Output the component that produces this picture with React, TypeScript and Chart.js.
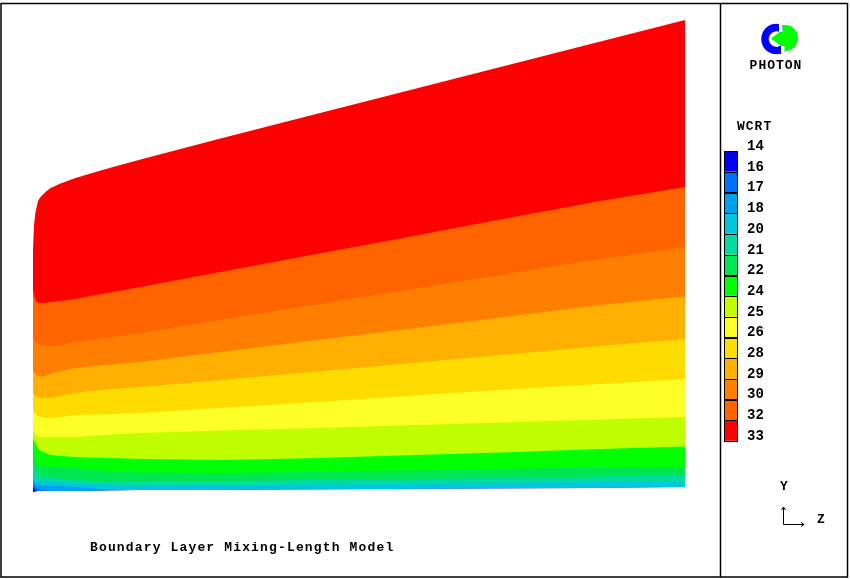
import React, { useEffect, useRef } from "react";
import { Chart, registerables } from "chart.js";

Chart.register(...registerables);

// Z coordinate grid (streamwise distance, arbitrary units)
const zGrid = [0, 0.2, 0.5, 1, 1.5, 2.5, 3.5, 5.5, 8.5, 11.5, 16, 21.5, 37.5, 53.5, 73.5, 93.5, 113.5, 130.4];

// Y position of domain top and of each WCRT contour level, per zGrid point
const yTop = [48.4, 53.4, 56, 58.2, 59, 60, 60.8, 61.7, 62.8, 63.7, 65, 66.5, 70.7, 74.8, 79.9, 85, 90.1, 94.4];
const c32 = [40.4, 39.4, 38.4, 37.8, 37.8, 37.8, 38, 38.2, 38.6, 39.2, 40, 41, 44, 47, 50.7, 54.5, 58.2, 61];
const c30 = [30.8, 30.4, 30, 29.6, 29.4, 29.2, 29.2, 29.4, 30, 30.4, 31, 31.8, 34.4, 37, 40.2, 43.4, 46.6, 48.9];
const c29 = [24.4, 24, 23.6, 23.2, 23, 23.2, 23.6, 24.2, 24.8, 25.1, 25.5, 26, 28, 30, 32.4, 34.9, 37.4, 39.1];
const c28 = [19.8, 19.6, 19.2, 19, 18.8, 18.8, 18.8, 19.2, 19.8, 20.2, 20.6, 21, 22.4, 23.8, 25.6, 27.4, 29.2, 30.6];
const c26 = [16.4, 16, 15.6, 15.2, 15, 14.8, 14.8, 15, 15.4, 15.5, 15.6, 15.8, 16.8, 17.8, 19.1, 20.4, 21.6, 22.6];
const c25 = [12.4, 12, 11.6, 11.2, 11, 11, 11, 11, 11, 11.2, 11.5, 11.8, 12.3, 12.7, 13.3, 13.9, 14.5, 15];
const c24 = [10.8, 10.2, 9.6, 8.8, 8.2, 7.8, 7.4, 7.2, 7, 6.9, 6.8, 6.6, 6.4, 6.7, 7.3, 7.9, 8.6, 9.1];
const c22 = [8.4, 7.4, 6.4, 5.6, 5.2, 5.1, 5, 4.9, 4.8, 4.5, 4.1, 3.9, 3.8, 4, 4.3, 4.6, 4.9, 5];
const c21 = [5.8, 5, 4.2, 3.6, 3.1, 3, 3, 2.7, 2.4, 2.2, 2.1, 2.1, 2.2, 2.4, 2.6, 2.8, 3.1, 3.3];
const c20 = [3.8, 3.2, 2.7, 2.3, 2, 2, 2, 1.9, 1.8, 1.6, 1.4, 1.4, 1.4, 1.5, 1.6, 1.8, 2, 2];
const c18 = [2.4, 2.1, 1.8, 1.5, 1.4, 1.4, 1.3, 1.2, 1, 0.8, 0.3, 0.4, 0.4, 0.5, 0.6, 0.7, 0.8, 1];
const c17 = [1.8, 1.4, 1.0, 0.7, 0.5, 0.3, 0.2, 0.2, 0.2, 0.2, 0.3, 0.4, 0.4, 0.5, 0.6, 0.7, 0.8, 1];
const c16 = [1.0, 0.7, 0.4, 0.2, 0.2, 0.2, 0.2, 0.2, 0.2, 0.2, 0.3, 0.4, 0.4, 0.5, 0.6, 0.7, 0.8, 1];
const yBottom = [0, 0, 0.1, 0.2, 0.2, 0.2, 0.2, 0.2, 0.2, 0.2, 0.3, 0.4, 0.4, 0.5, 0.6, 0.7, 0.8, 1.0];

// Legend levels and band colours (band i lies between levels[i] and levels[i+1])
const levels = [14, 16, 17, 18, 20, 21, 22, 24, 25, 26, 28, 29, 30, 32, 33];
const bandColors = [
  "#0000ff", "#0070ff", "#00a0f0", "#00c8dc", "#00dca0", "#00e650", "#00ff00",
  "#c0ff00", "#ffff28", "#ffdc00", "#ffb000", "#ff8000", "#ff6400", "#ff0000",
];

// Upper boundary of each band (from lowest band to highest), matching bandColors
const bandTops = [c16, c17, c18, c20, c21, c22, c24, c25, c26, c28, c29, c30, c32, yTop];

const title = "Boundary Layer Mixing-Length Model";
const varName = "WCRT";

const decor = {
  id: "decor",
  afterDraw(chart: any) {
    const ctx: CanvasRenderingContext2D = chart.ctx;
    ctx.save();
    // frame
    ctx.strokeStyle = "#000";
    ctx.lineWidth = 1.5;
    ctx.strokeRect(1, 3.5, 846.5, 573.5);
    ctx.beginPath();
    ctx.moveTo(720.5, 3.5);
    ctx.lineTo(720.5, 577);
    ctx.stroke();

    // logo
    ctx.strokeStyle = "#0000ff";
    ctx.lineWidth = 7.5;
    ctx.beginPath();
    ctx.arc(776.5, 39, 11.5, -Math.PI / 3.2, Math.PI / 3.2, true);
    ctx.stroke();
    ctx.fillStyle = "#00ff00";
    ctx.beginPath();
    ctx.arc(785, 38, 13, (-100 * Math.PI) / 180, (100 * Math.PI) / 180, false);
    ctx.closePath();
    ctx.fill();
    ctx.beginPath();
    ctx.moveTo(771, 38.5);
    ctx.lineTo(785, 28);
    ctx.lineTo(785, 49);
    ctx.closePath();
    ctx.fill();
    ctx.fillStyle = "#ffffff";
    ctx.fillRect(779, 24, 3.5, 8);
    ctx.fillRect(781, 46, 3.5, 7);

    // texts
    ctx.fillStyle = "#000";
    ctx.textBaseline = "middle";
    (ctx as any).letterSpacing = "1px";
    ctx.font = 'bold 13px "Liberation Mono", monospace';
    ctx.textAlign = "center";
    ctx.fillText("PHOTON", 776, 66);
    ctx.textAlign = "left";
    ctx.fillText(varName, 737, 127);
    (ctx as any).letterSpacing = "1.15px";
    ctx.fillText(title, 90, 547.5);

    // legend
    const boxTop = 151;
    const boxH = 20.7;
    for (let i = 0; i < bandColors.length; i++) {
      const y = boxTop + i * boxH;
      ctx.fillStyle = bandColors[i];
      ctx.fillRect(724, y, 14, boxH);
    }
    ctx.strokeStyle = "#000";
    ctx.lineWidth = 1;
    for (let i = 0; i < bandColors.length; i++) {
      const y = Math.round(boxTop + i * boxH) + 0.5;
      ctx.strokeRect(724.5, y, 13, Math.round(boxH));
    }
    (ctx as any).letterSpacing = "0px";
    ctx.font = 'bold 14px "Liberation Mono", monospace';
    ctx.fillStyle = "#000";
    for (let i = 0; i < levels.length; i++) {
      ctx.fillText(String(levels[i]), 747, 146.5 + i * boxH);
    }

    // axis indicator
    ctx.lineWidth = 1;
    ctx.beginPath();
    ctx.moveTo(783.5, 507);
    ctx.lineTo(783.5, 524.5);
    ctx.lineTo(804, 524.5);
    ctx.moveTo(781.5, 510);
    ctx.lineTo(783.5, 507);
    ctx.lineTo(785.5, 510);
    ctx.moveTo(801, 522.5);
    ctx.lineTo(804, 524.5);
    ctx.lineTo(801, 526.5);
    ctx.stroke();
    ctx.font = 'bold 13px "Liberation Mono", monospace';
    ctx.textAlign = "center";
    ctx.fillText("Y", 784, 487);
    ctx.fillText("Z", 821, 519.5);
    ctx.restore();
  },
};

export default function App() {
  const ref = useRef<HTMLCanvasElement | null>(null);
  useEffect(() => {
    if (!ref.current) return;
    const toPts = (ys: number[]) => zGrid.map((z, i) => ({ x: z, y: ys[i] }));
    const datasets: any[] = [];
    // bottom (white) first so it is drawn last, on top
    datasets.push({
      label: "bottom",
      data: toPts(yBottom),
      fill: "start",
      backgroundColor: "#ffffff",
      borderColor: "rgba(0,0,0,0)",
      borderWidth: 0,
      pointRadius: 0,
    });
    for (let i = 0; i < bandTops.length; i++) {
      datasets.push({
        label: `${levels[i]}-${levels[i + 1]}`,
        data: toPts(bandTops[i]),
        fill: "start",
        backgroundColor: bandColors[i],
        borderColor: "rgba(0,0,0,0)",
        borderWidth: 0,
        pointRadius: 0,
      });
    }
    const chart = new Chart(ref.current, {
      type: "line",
      data: { datasets },
      options: {
        animation: false,
        responsive: false,
        devicePixelRatio: 1,
        layout: { padding: { left: 33, right: 165, top: 17, bottom: 87 } },
        scales: {
          x: { type: "linear", min: 0, max: 130.4, display: false },
          y: { type: "linear", min: 0, max: 95, display: false },
        },
        plugins: {
          legend: { display: false },
          tooltip: { enabled: false },
          title: { display: false },
        },
        elements: { point: { radius: 0 }, line: { tension: 0 } },
      },
      plugins: [decor],
    });
    return () => chart.destroy();
  }, []);
  return (
    <div style={{ position: "absolute", left: 0, top: 0, width: 850, height: 579, background: "#fff" }}>
      <canvas ref={ref} width={850} height={579} style={{ display: "block" }} />
    </div>
  );
}
